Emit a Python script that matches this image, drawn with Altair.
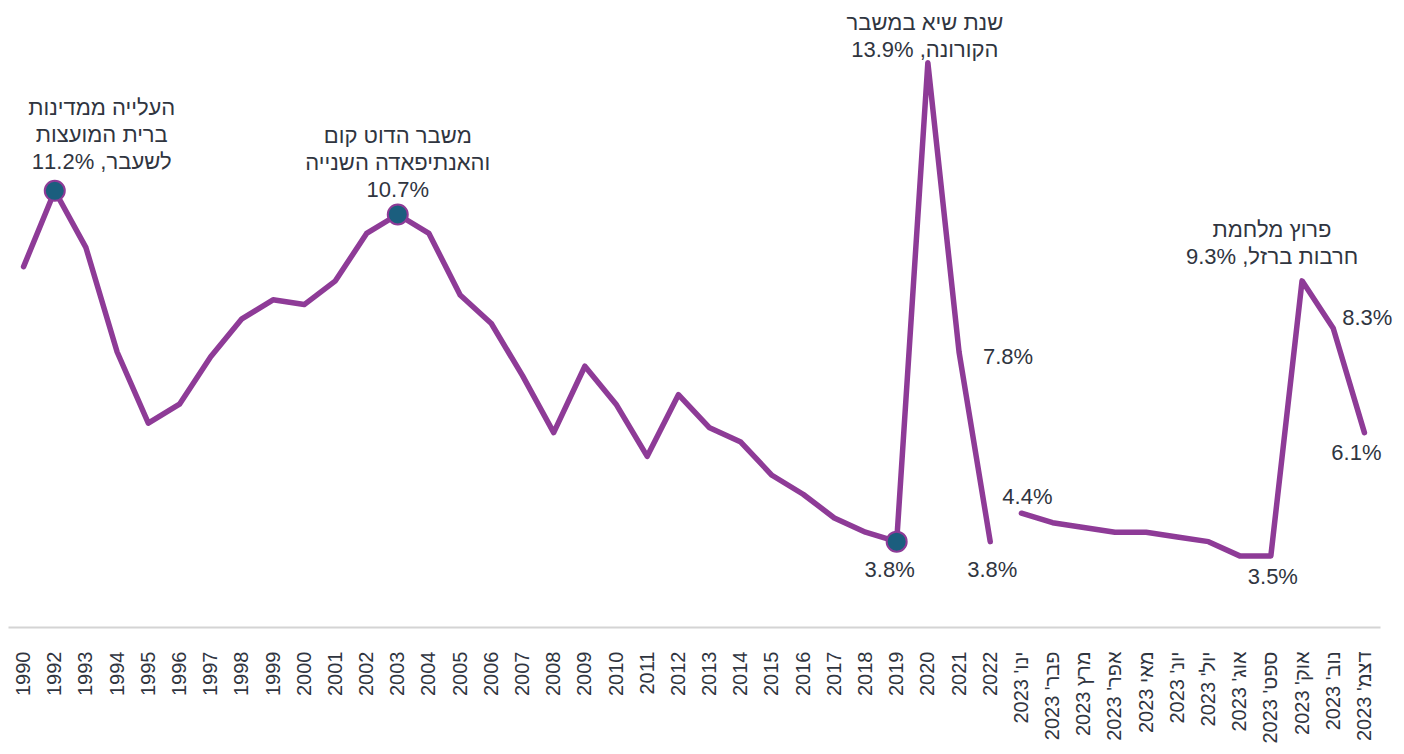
import altair as alt
import pandas as pd

# ---- data ----
years = ["1990"] + [str(y) for y in range(1992, 2023)]
year_values = [9.6, 11.2, 10.0, 7.8, 6.3, 6.7, 7.7, 8.5, 8.9, 8.8, 9.3, 10.3, 10.7,
               10.3, 9.0, 8.4, 7.3, 6.1, 7.5, 6.7, 5.6, 6.9, 6.2, 5.9, 5.2, 4.8,
               4.3, 4.0, 3.8, 13.9, 7.8, 3.8]
months = ["ינו' 2023", "פבר' 2023", "מרץ 2023", "אפר' 2023", "מאי 2023", "יונ' 2023",
          "יול' 2023", "אוג' 2023", "ספט' 2023", "אוק' 2023", "נוב' 2023", "דצמ' 2023"]
month_values = [4.4, 4.2, 4.1, 4.0, 4.0, 3.9, 3.8, 3.5, 3.5, 9.3, 8.3, 6.1]
marker_cats = ["1992", "2003", "2019"]

categories = years + months
values = year_values + month_values
segments = ["years"] * len(years) + ["months"] * len(months)

df = pd.DataFrame({"cat": categories, "val": values, "seg": segments})

PURPLE = "#8E3B97"
TEAL = "#1B5E7E"
TEXT = "#30353F"
FONT = "Liberation Sans"

xscale = alt.Scale(type="point", domain=categories, padding=0.5)
yscale = alt.Scale(domain=[2, 14], zero=False, nice=False)

x_enc = alt.X("cat:N", scale=xscale, sort=categories,
              axis=alt.Axis(title=None, labelAngle=270, labelFontSize=20,
                            labelColor=TEXT, labelFont=FONT, labelPadding=24,
                            ticks=False, grid=False, domain=True,
                            domainColor="#D4D4D4", domainWidth=2,
                            labelOverlap=False, labelBound=False))
y_enc = alt.Y("val:Q", scale=yscale, axis=None)

line = alt.Chart(df).mark_line(color=PURPLE, strokeWidth=5.5, strokeCap="round",
                               strokeJoin="round").encode(
    x=x_enc, y=y_enc, detail="seg:N")

markers = alt.Chart(df[df["cat"].isin(marker_cats)]).mark_point(
    filled=True, shape="circle", size=400, fill=TEAL, stroke=PURPLE,
    strokeWidth=2, opacity=1).encode(
    x=alt.X("cat:N", scale=xscale, sort=categories),
    y=alt.Y("val:Q", scale=yscale))


def note(cat, text, dx, dy):
    val = values[categories.index(cat)]
    d = pd.DataFrame({"cat": [cat], "val": [val], "t": [text]})
    return alt.Chart(d).mark_text(
        dx=dx, dy=dy, align="center", baseline="middle", lineBreak="\n",
        lineHeight=27, dir="rtl", fontSize=22, font=FONT, color=TEXT).encode(
        x=alt.X("cat:N", scale=xscale, sort=categories),
        y=alt.Y("val:Q", scale=yscale),
        text="t:N")


notes = [
    note("1992", "העלייה ממדינות\nברית המועצות\nלשעבר, 11.2%", 47, -83),
    note("2003", "משבר הדוט קום\nוהאנתיפאדה השנייה\n10.7%", 0, -78),
    note("2020", "שנת שיא במשבר\nהקורונה, 13.9%", -3, -40),
    note("אוק' 2023", "פרוץ מלחמת\nחרבות ברזל, 9.3%", -30, -51),
    note("נוב' 2023", "8.3%", 34, -10),
    note("דצמ' 2023", "6.1%", -8, 20),
    note("2021", "7.8%", 49, 5),
    note("2019", "3.8%", -7, 28),
    note("2022", "3.8%", 2, 28),
    note("ינו' 2023", "4.4%", 6, -16),
    note("ספט' 2023", "3.5%", 2, 21),
]

chart = alt.layer(line, markers, *notes).properties(
    width=1372, height=569,
    autosize=alt.AutoSizeParams(type="none"),
    padding={"left": 0, "top": 50, "right": 16, "bottom": 119},
).configure_view(stroke=None)

chart.save("out.html", embed_options={"renderer": "svg", "actions": False})
